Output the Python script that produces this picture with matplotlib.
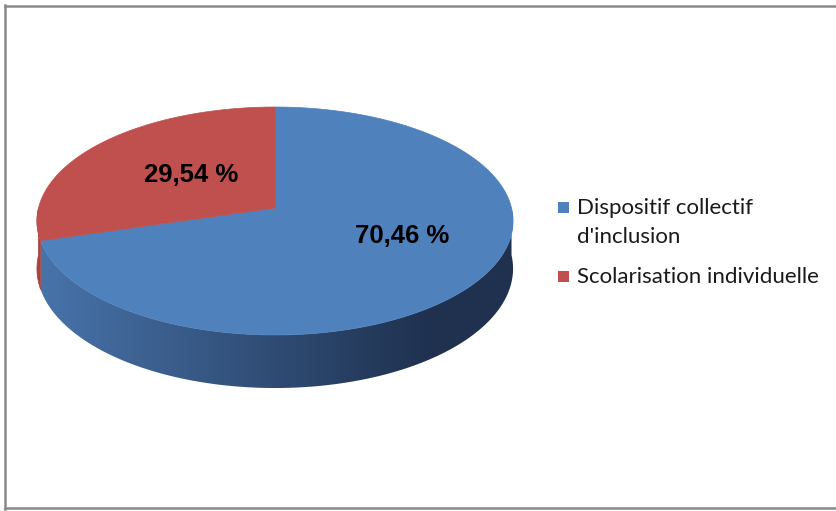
import numpy as np
import matplotlib
matplotlib.use('Agg')
import matplotlib.pyplot as plt
from matplotlib.patches import Polygon, Rectangle
from matplotlib.lines import Line2D

# répartition des élèves
categories = ["Dispositif collectif\nd'inclusion", 'Scolarisation individuelle']
values = [70.46, 29.54]
value_labels = ['70,46 %', '29,54 %']
top_colors = ['#4F81BD', '#C0504D']
red_side = '#A8423F'

# 3D pie geometry (pixel coords, y down)
CX, CY = 275, 208
RX, RY = 236.5, 112.5
K = -0.114
DEPTH = 47


def project(theta, r=1.0):
    # theta clockwise from 12 o'clock, w > 0 towards the viewer
    u = r * np.sin(theta)
    w = -r * np.cos(theta)
    s = 1.0 / (1 + K * w)
    return CX + RX * u * s, CY + RY * w * s, s


def side_blue(x):
    t = np.clip((x - 37) / (430 - 37), 0, 1)
    c0 = np.array([0x48, 0x74, 0xAB]) / 255
    c1 = np.array([0x1F, 0x31, 0x4F]) / 255
    return c0 + (c1 - c0) * t[:, None]


def side_outline(t0, t1):
    th = np.linspace(t0, t1, 300)
    xs, ys, ss = project(th)
    yb = ys + DEPTH * ss
    return np.column_stack([np.r_[xs, xs[::-1]], np.r_[ys, yb[::-1]]])


fig = plt.figure(figsize=(8.36, 5.11), dpi=100)
ax = fig.add_axes([0, 0, 1, 1])
ax.axis('off')

total = sum(values)
bounds = np.cumsum([0] + values) / total * 2 * np.pi
front0, front1 = np.pi / 2, 3 * np.pi / 2

# side of the pie: blue part with a left-to-right shading, red part plain
blue_side = Polygon(side_outline(front0, min(bounds[1], front1)), closed=True,
                    facecolor='none', edgecolor='none')
ax.add_patch(blue_side)
gx = np.linspace(30, 520, 600)
grad = side_blue(gx)[None, :, :]
im = ax.imshow(grad, extent=(30, 520, 400, 200), aspect='auto',
               interpolation='bilinear', zorder=1)
im.set_clip_path(blue_side)
if bounds[1] < front1:
    ax.add_patch(Polygon(side_outline(bounds[1], front1), closed=True,
                         facecolor=red_side, edgecolor=red_side,
                         linewidth=0.5, zorder=1))

# top faces
for i in range(len(values)):
    t = np.linspace(bounds[i], bounds[i + 1], 300)
    px, py, _ = project(t)
    pts = np.column_stack([np.r_[CX, px], np.r_[CY, py]])
    ax.add_patch(Polygon(pts, closed=True, facecolor=top_colors[i],
                         edgecolor=top_colors[i], linewidth=0.5, zorder=2))

# data labels
lab_font = dict(family='Liberation Sans', fontsize=18.5, fontweight='bold',
                color='black', ha='center', va='baseline', zorder=3)
ax.text(402.5, 243, value_labels[0], **lab_font)
ax.text(191.5, 182, value_labels[1], **lab_font)

# legend
leg_font = dict(family='Lato', fontsize=16, color='#1a1a1a', va='baseline')
ax.add_patch(Rectangle((558, 202), 11, 11, facecolor=top_colors[0],
                       edgecolor='none'))
ax.text(577, 214, categories[0].split('\n')[0], **leg_font)
ax.text(577, 243, categories[0].split('\n')[1], **leg_font)
ax.add_patch(Rectangle((558, 271), 11, 11, facecolor=top_colors[1],
                       edgecolor='none'))
ax.text(577, 283, categories[1], **leg_font)

# chart frame
frame = '#8a8a8a'
ax.add_line(Line2D([5, 5], [5, 509], color=frame, linewidth=1.8))
ax.add_line(Line2D([4.5, 836], [6, 6], color=frame, linewidth=1.8))
ax.add_line(Line2D([4.5, 836], [508.5, 508.5], color=frame, linewidth=1.8))

ax.set_xlim(0, 836)
ax.set_ylim(511, 0)

fig.savefig('out.png', dpi=100, facecolor='white')
